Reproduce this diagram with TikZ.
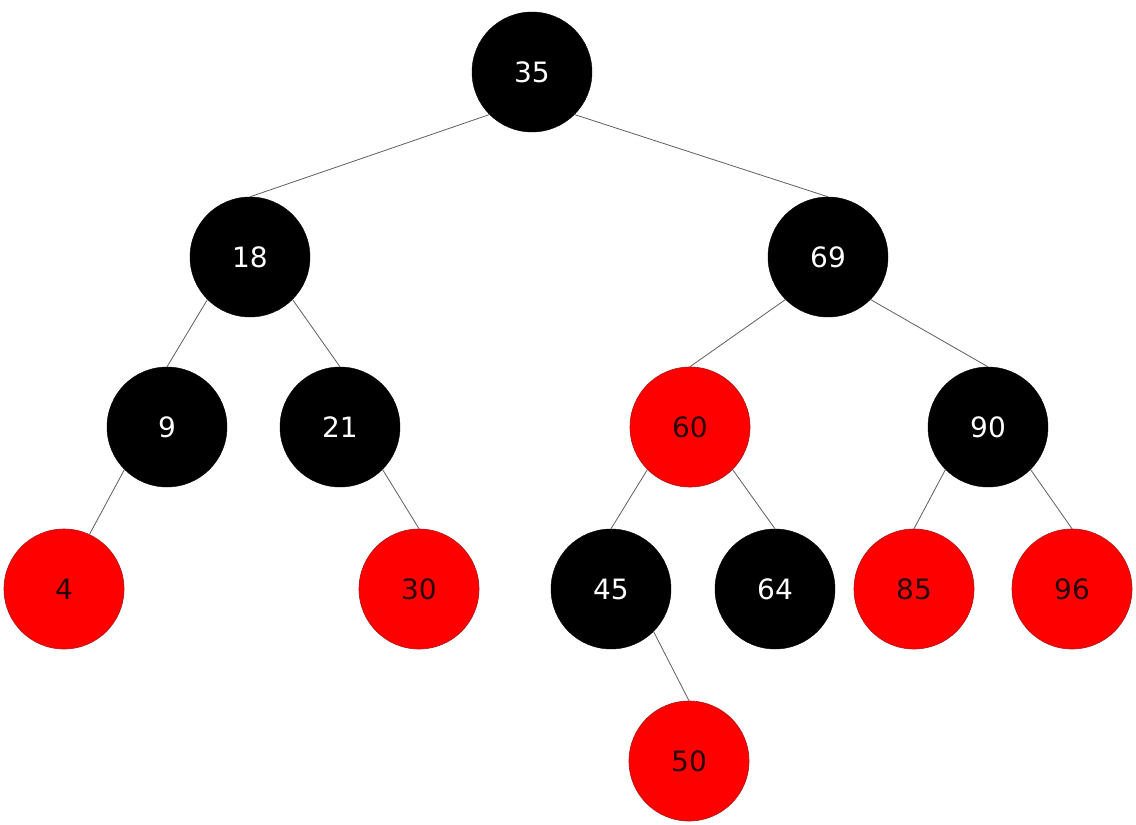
\documentclass[tikz,border=0pt]{standalone}
\usepackage{fontspec}
\setmainfont{DejaVu Sans}
\begin{document}
\begin{tikzpicture}[x=1pt,y=-1pt,
  rb/.style={circle,minimum size=120pt,inner sep=0pt,font=\fontsize{28}{30}\selectfont},
  blk/.style={rb,fill=black,draw=black,text=white},
  rd/.style={rb,fill=red,draw={rgb,255:red,170;green,20;blue,20},line width=0.6pt,text={rgb,255:red,40;green,0;blue,0}},
  edge/.style={draw={rgb,255:red,95;green,95;blue,95},line width=0.8pt}]
\useasboundingbox (0,0) rectangle (1136,825);
\fill[white] (0,0) rectangle (1136,825);
\node[blk] (n35) at (532,72) {35};
\node[blk] (n18) at (250,257) {18};
\node[blk] (n69) at (828,257) {69};
\node[blk] (n9) at (167,427) {9};
\node[blk] (n21) at (340,427) {21};
\node[rd] (n60) at (690,427) {60};
\node[blk] (n90) at (988,427) {90};
\node[rd] (n4) at (64,589) {4};
\node[rd] (n30) at (419,589) {30};
\node[blk] (n45) at (611,589) {45};
\node[blk] (n64) at (775,589) {64};
\node[rd] (n85) at (914,589) {85};
\node[rd] (n96) at (1072,589) {96};
\node[rd] (n50) at (689,761) {50};
\path[edge] (n35.south west) -- (n18.north);
\path[edge] (n35.south east) -- (n69.north);
\path[edge] (n18.south west) -- (n9.north);
\path[edge] (n18.south east) -- (n21.north);
\path[edge] (n69.south west) -- (n60.north);
\path[edge] (n69.south east) -- (n90.north);
\path[edge] (n9.south west) -- (n4.65);
\path[edge] (n21.south east) -- (n30.north);
\path[edge] (n60.south west) -- (n45.north);
\path[edge] (n60.south east) -- (n64.north);
\path[edge] (n90.south west) -- (n85.north);
\path[edge] (n90.south east) -- (n96.north);
\path[edge] (n45.south east) -- (n50.north);
\end{tikzpicture}
\end{document}
